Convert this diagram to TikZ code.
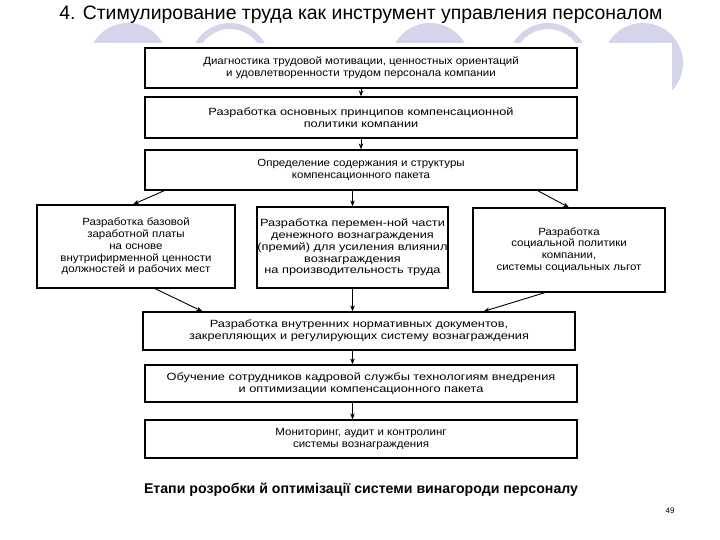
\documentclass[tikz,border=0pt]{standalone}
\usepackage{fontspec}
\setmainfont{Liberation Sans}
\newfontfamily\wideA[FakeStretch=1.1]{Liberation Sans}
\newfontfamily\wideB[FakeStretch=1.22]{Liberation Sans}
\usetikzlibrary{arrows.meta}
\definecolor{lav}{RGB}{212,212,234}
\begin{document}
\begin{tikzpicture}[x=1bp,y=-1bp,
  stagebox/.style={draw=black,line width=1.2bp,rectangle,inner sep=0pt,align=center,font=\wideA\fontsize{10.5}{11.8}\selectfont},
  widebox/.style={stagebox,font=\wideB\fontsize{10.5}{11.8}\selectfont},
  arr/.style={-{Stealth[length=6bp,width=4.5bp]},line width=0.9bp},
  lavdisc/.style={fill=lav,draw=none},
  lavring/.style={draw=lav,line width=6bp,fill=none}]
\useasboundingbox (0,0) rectangle (720,540);
% background circles
\fill[lavdisc] (128,63) circle (40);
\draw[lavring] (230,63) circle (37);
\fill[lavdisc] (430,63) circle (40);
\draw[lavring] (548,63) circle (37);
\fill[lavdisc] (643,63) circle (40);
\fill[white] (20,43) rectangle (672,472);
% title
\node[font=\fontsize{19.5}{21}\selectfont] (title) at (361,15) {4. Стимулирование труда как инструмент управления персоналом};
% boxes
\node[stagebox,minimum width=432bp,minimum height=40bp] (b1) at (361,68) {Диагностика трудовой мотивации, ценностных ориентаций\\и удовлетворенности трудом персонала компании};
\node[widebox,minimum width=432bp,minimum height=41bp] (b2) at (361,117.5) {Разработка основных принципов компенсационной\\политики компании};
\node[stagebox,minimum width=432bp,minimum height=40bp] (b3) at (361,170) {Определение содержания и структуры\\компенсационного пакета};
\node[stagebox,minimum width=198bp,minimum height=83bp] (l) at (136,246.5) {Разработка базовой\\заработной платы\\на основе\\внутрифирменной ценности\\должностей и рабочих мест};
\node[widebox,minimum width=191bp,minimum height=81bp] (m) at (352.5,247.5) {Разработка перемен-ной части\\денежного вознаграждения\\(премий) для усиления влиянил\\вознаграждения\\на производительность труда};
\node[stagebox,minimum width=192bp,minimum height=84bp] (r) at (569,250) {Разработка\\социальной политики\\компании,\\системы социальных льгот};
\node[widebox,minimum width=432bp,minimum height=38bp] (b4) at (359,331) {Разработка внутренних нормативных документов,\\закрепляющих и регулирующих систему вознаграждения};
\node[widebox,minimum width=432bp,minimum height=37bp] (b5) at (361,383.5) {Обучение сотрудников кадровой службы технологиям внедрения\\и оптимизации компенсационного пакета};
\node[stagebox,minimum width=432bp,minimum height=38bp] (b6) at (361,439) {Мониторинг, аудит и контролинг\\системы вознаграждения};
% arrows
\draw[arr] (b1.south) -- (b2.north);
\draw[arr] (b2.south) -- (b3.north);
\draw[arr] ([xshift=20bp]b3.south west) -- ([xshift=-3bp]l.north);
\draw[arr] (b3.south -| m.north) -- (m.north);
\draw[arr] ([xshift=-40bp]b3.south east) -- (r.north);
\draw[arr] ([xshift=19bp]l.south) -- ([xshift=60bp]b4.north west);
\draw[arr] (m.south) -- (m.south |- b4.north);
\draw[arr] ([xshift=-24bp]r.south) -- ([xshift=-92bp]b4.north east);
\draw[arr] (b4.south -| m.south) -- (b5.north -| m.south);
\draw[arr] (b5.south -| m.south) -- (b6.north -| m.south);
% caption
\node[font=\bfseries\fontsize{14.2}{16}\selectfont] (cap) at (361,490) {Етапи розробки й оптимізації системи винагороди персоналу};
\node[font=\fontsize{8}{9}\selectfont] (pg) at (670,511) {49};
\end{tikzpicture}
\end{document}
